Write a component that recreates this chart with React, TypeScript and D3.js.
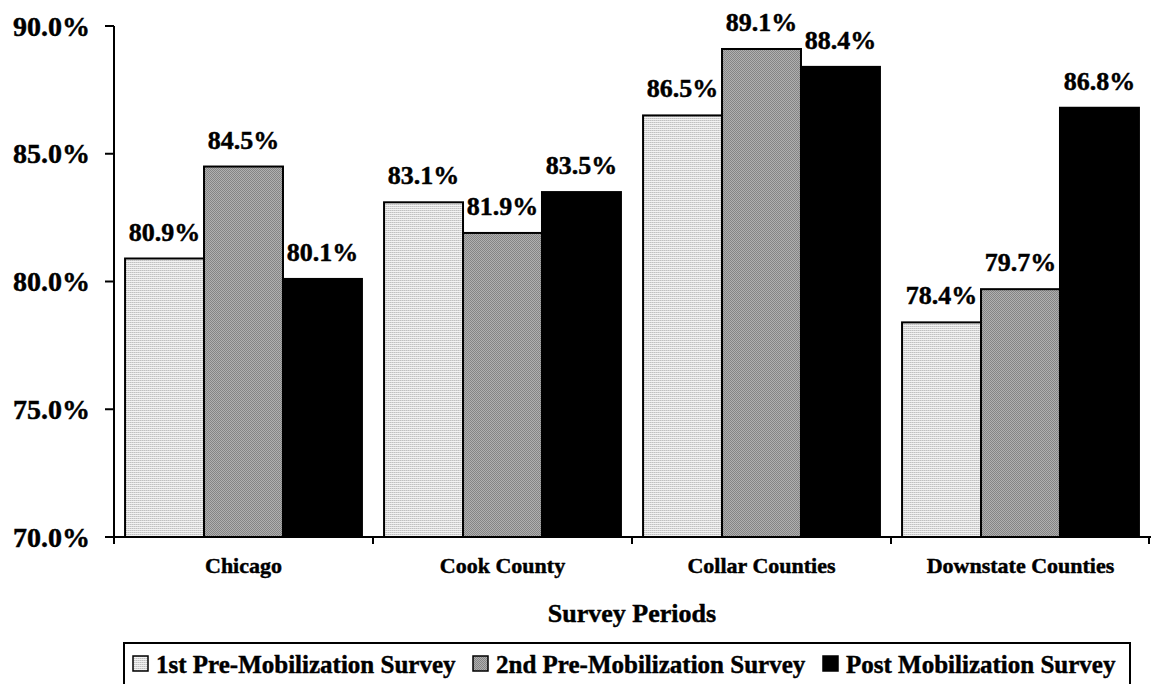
import React from "react";
import * as d3 from "d3";

const categories = ["Chicago", "Cook County", "Collar Counties", "Downstate Counties"];
const seriesNames = ["1st Pre-Mobilization Survey", "2nd Pre-Mobilization Survey", "Post Mobilization Survey"];
const firstPre = [80.9, 83.1, 86.5, 78.4];
const secondPre = [84.5, 81.9, 89.1, 79.7];
const postMob = [80.1, 83.5, 88.4, 86.8];
const yTicks = [70, 75, 80, 85, 90];
const xTitle = "Survey Periods";

const seriesValues = [firstPre, secondPre, postMob];
const fills = ["url(#pat1)", "url(#pat2)", "#000"];

if (typeof document !== "undefined") {
  document.body.style.margin = "0";
}

const FONT = "'Liberation Serif', 'Times New Roman', serif";
const TS = { stroke: "#000", strokeWidth: 0.45 } as const;

export default function App() {
  const W = 1151, H = 684;
  const x0 = d3.scaleBand<string>().domain(categories).range([114, 1150]).paddingInner(0).paddingOuter(0);
  const x1 = d3.scaleBand<string>().domain(seriesNames).range([0, x0.bandwidth()]).paddingInner(0).paddingOuter(0.14);
  const y = d3.scaleLinear().domain([70, 90]).range([537, 26]);
  const bounds = [...categories.map((c) => x0(c) as number), 1150];

  const legendX = [133, 473, 823];

  return (
    <svg width={W} height={H} style={{ display: "block", background: "#fff" }} fontFamily={FONT} fontWeight="bold">
      <defs>
        <pattern id="pat1" width="2" height="2" patternUnits="userSpaceOnUse">
          <rect width="2" height="2" fill="#f2f2f2" />
          <rect width="2" height="1" fill="#c0c0c0" />
          <rect x="1" y="0" width="1" height="1" fill="#d6d6d6" />
        </pattern>
        <pattern id="pat2" width="2" height="2" patternUnits="userSpaceOnUse">
          <rect width="2" height="2" fill="#b0b0b0" />
          <rect width="1" height="1" fill="#848484" />
          <rect x="1" y="1" width="1" height="1" fill="#848484" />
        </pattern>
      </defs>

      {/* bars */}
      {categories.map((c, ci) => (
        <g key={c}>
          {seriesNames.map((s, si) => {
            const v = seriesValues[si][ci];
            const bx = (x0(c) as number) + (x1(s) as number);
            const bw = x1.bandwidth();
            const top = y(v);
            return (
              <g key={s}>
                <rect x={bx} y={top} width={bw} height={y(70) - top} fill={fills[si]} stroke="#000" strokeWidth={2} />
                <text x={bx + bw / 2} y={top - 18} textAnchor="middle" fontSize={26} fill="#000" {...TS}>
                  {v.toFixed(1) + "%"}
                </text>
              </g>
            );
          })}
        </g>
      ))}

      {/* y axis */}
      <line x1={114} x2={114} y1={y(90)} y2={y(70) + 1} stroke="#000" strokeWidth={2} />
      {yTicks.map((t) => (
        <g key={t}>
          <line x1={105} x2={114} y1={y(t)} y2={y(t)} stroke="#000" strokeWidth={2} />
          <text x={90} y={y(t) + 9.5} textAnchor="end" fontSize={28} fill="#000" {...TS}>
            {t.toFixed(1) + "%"}
          </text>
        </g>
      ))}

      {/* x axis */}
      <line x1={113} x2={1151} y1={y(70)} y2={y(70)} stroke="#000" strokeWidth={2} />
      {bounds.map((b, i) => (
        <line key={i} x1={Math.min(b, 1149)} x2={Math.min(b, 1149)} y1={y(70)} y2={y(70) + 7} stroke="#000" strokeWidth={2} />
      ))}
      {categories.map((c) => (
        <text key={c} x={(x0(c) as number) + x0.bandwidth() / 2} y={573} textAnchor="middle" fontSize={22} fill="#000" {...TS}>
          {c}
        </text>
      ))}
      <text x={632} y={622} textAnchor="middle" fontSize={26} fill="#000" {...TS}>
        {xTitle}
      </text>

      {/* legend */}
      <rect x={124} y={643} width={1006} height={60} fill="#fff" stroke="#000" strokeWidth={2} />
      {seriesNames.map((s, i) => (
        <g key={s}>
          <rect x={legendX[i]} y={656} width={15} height={15} fill={fills[i]} stroke="#000" strokeWidth={1.5} />
          <text x={legendX[i] + 23} y={673} fontSize={25} fill="#000" {...TS}>
            {s}
          </text>
        </g>
      ))}
    </svg>
  );
}
